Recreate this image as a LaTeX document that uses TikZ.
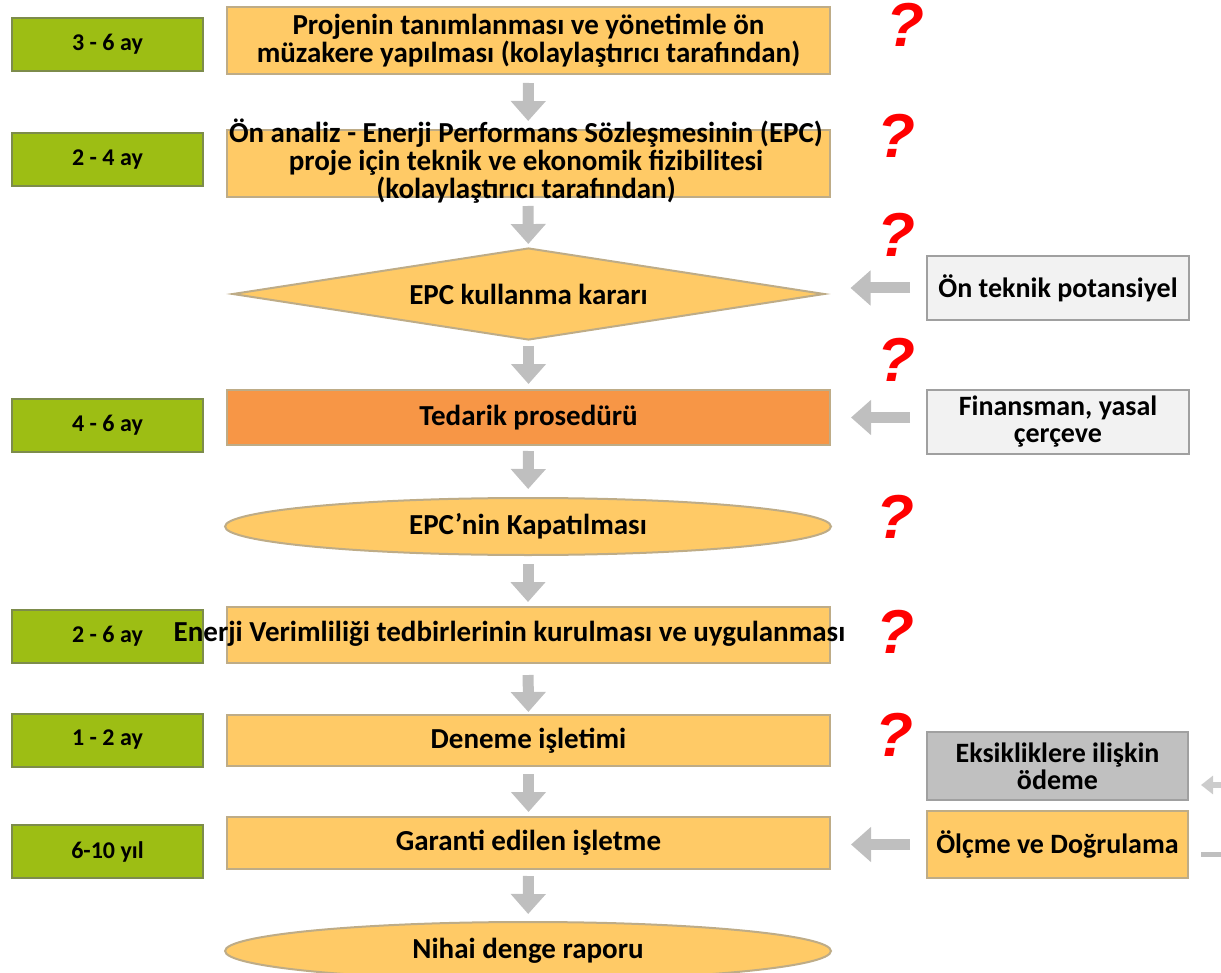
\documentclass[tikz,border=0pt]{standalone}
\usepackage{fontspec}
\setmainfont{Carlito}
\newfontfamily\queryfont{Liberation Sans}
\usetikzlibrary{shapes.geometric,arrows.meta}
\definecolor{boxorange}{RGB}{255,202,102}
\definecolor{boxedge}{RGB}{190,172,135}
\definecolor{darkorange}{RGB}{247,150,70}
\definecolor{timegreen}{RGB}{157,190,20}
\definecolor{greenedge}{RGB}{125,140,75}
\definecolor{arrowgray}{RGB}{191,191,191}
\definecolor{lightbox}{RGB}{242,242,242}
\definecolor{midbox}{RGB}{192,192,192}
\definecolor{sideedge}{RGB}{160,160,160}
\definecolor{qred}{RGB}{255,0,0}
\tikzstyle{stepbox}=[rectangle,draw=boxedge,fill=boxorange,line width=1pt,minimum width=301.5pt,inner sep=0pt,align=center,font=\bfseries\fontsize{14.5}{12.5}\selectfont]
\tikzstyle{steptext}=[inner sep=0pt,align=center,font=\bfseries\fontsize{14.5}{14}\selectfont]
\tikzstyle{endcap}=[ellipse,draw=boxedge,fill=boxorange,line width=1pt,minimum width=303pt,inner sep=0pt,font=\bfseries\fontsize{14.5}{12.5}\selectfont]
\tikzstyle{timebox}=[rectangle,draw=greenedge,fill=timegreen,line width=1pt,minimum width=95.5pt,minimum height=26.5pt,inner sep=0pt,font=\bfseries\fontsize{12}{12}\selectfont]
\tikzstyle{sidebox}=[rectangle,draw=sideedge,fill=lightbox,line width=1pt,minimum width=131pt,minimum height=32pt,inner sep=0pt,align=center,font=\bfseries\fontsize{14}{13.5}\selectfont]
\tikzstyle{query}=[text=qred,inner sep=0pt,font=\queryfont\bfseries\itshape\fontsize{31}{31}\selectfont]
\tikzstyle{flow}=[draw=arrowgray,line width=5.5pt,-{Triangle[width=17pt,length=10pt]}]
\tikzstyle{thinflow}=[draw=arrowgray!80,line width=3pt,-{Triangle[width=9pt,length=6pt]}]

\begin{document}
\begin{tikzpicture}[x=0.5pt,y=-0.5pt]
\useasboundingbox (0,0) rectangle (1221,973);
\clip (0,0) rectangle (1221,973);
% durations
\node[timebox] at (107.5, 44.5) (g1) {3 - 6 ay};
\node[timebox] at (107.5, 159.5) (g2) {2 - 4 ay};
\node[timebox] at (107.5, 425) (g3) {4 - 6 ay};
\node[timebox] at (107.5, 636.5) (g4) {2 - 6 ay};
\node[timebox] at (107.5, 740) (g5) {1 - 2 ay};
\node[timebox] at (107.5, 851.5) (g6) {6-10 yıl};
% main column
\node[stepbox, minimum height=33.5pt] at (528.5, 40.5) (b1) {Projenin tanımlanması ve yönetimle ön\\müzakere yapılması (kolaylaştırıcı tarafından)};
\node[stepbox, minimum height=33.5pt] at (528, 163.5) (b2) {};
\node[steptext] at (526, 161) (t2) {Ön analiz - Enerji Performans Sözleşmesinin (EPC)\\proje için teknik ve ekonomik fizibilitesi\\(kolaylaştırıcı tarafından)};
\node[diamond, aspect=6.4, draw=boxedge, fill=boxorange, line width=1pt, minimum width=296pt, minimum height=46pt, inner sep=0pt, font=\bfseries\fontsize{14.5}{12.5}\selectfont] at (528.5, 294) (dec) {EPC kullanma kararı};
\node[stepbox, fill=darkorange, minimum height=27.5pt] at (528.5, 417.5) (ted) {Tedarik prosedürü};
\node[endcap, minimum height=28.5pt] at (528, 526.5) (kap) {EPC’nin Kapatılması};
\node[stepbox, minimum height=28pt] at (528, 635) (kur) {};
\node[steptext] at (509.5, 634) (t6) {Enerji Verimliliği tedbirlerinin kurulması ve uygulanması};
\node[stepbox, minimum height=25.5pt] at (528.5, 740.5) (den) {Deneme işletimi};
\node[stepbox, minimum height=26pt] at (528.5, 843) (gar) {Garanti edilen işletme};
\node[endcap, minimum height=29pt] at (528, 951) (nih) {Nihai denge raporu};
% inputs on the right
\node[sidebox] at (1058, 288) (on) {Ön teknik potansiyel};
\node[sidebox] at (1058, 422) (fin) {Finansman, yasal\\çerçeve};
\node[sidebox, fill=midbox, minimum width=130.5pt, minimum height=34pt] at (1057.5, 766) (eks) {Eksikliklere ilişkin\\ödeme};
\node[sidebox, fill=boxorange, draw=boxedge, minimum width=130.5pt, minimum height=33.5pt] at (1057.5, 844.5) (olc) {Ölçme ve Doğrulama};
% question marks
\node[query] at (905, 25) (q1) {?};
\node[query] at (896, 136) (q2) {?};
\node[query] at (896, 235) (q3) {?};
\node[query] at (896, 360) (q4) {?};
\node[query] at (895, 517) (q5) {?};
\node[query] at (895, 632) (q6) {?};
\node[query] at (894, 735) (q7) {?};
% arrows
\draw[flow, shorten <=4pt, shorten >=4pt] (b1) -- (b2);
\draw[flow, shorten <=4pt, shorten >=1.5pt] (b2) -- (dec);
\draw[flow, shorten <=2.5pt, shorten >=2.5pt] (dec) -- (ted);
\draw[flow, shorten <=2.5pt, shorten >=4pt] (ted) -- (kap);
\draw[flow, shorten <=4pt, shorten >=2pt] (kap) -- (kur);
\draw[flow, shorten <=5.5pt, shorten >=1pt] (kur) -- (den);
\draw[flow, shorten <=3.5pt, shorten >=2pt] (den) -- (gar);
\draw[flow, shorten <=3pt, shorten >=3.5pt] (gar) -- (nih);
\draw[flow, shorten <=8pt, shorten >=12.5pt] (on.west) -- (on.west -| dec.east);
\draw[flow, shorten <=8pt, shorten >=10pt] (ted.east -| fin.west) -- (ted.east);
\draw[flow, shorten <=8pt, shorten >=10pt] (olc.west) -- (olc.west -| gar.east);
\coordinate (offa) at (1245, 785);
\coordinate (offb) at (1245, 854);
\draw[thinflow, shorten >=6pt] (offa) -- (offa -| eks.east);
\draw[draw=arrowgray, line width=2.5pt, shorten <=6pt] (olc.east |- offb) -- (offb);
\end{tikzpicture}
\end{document}
